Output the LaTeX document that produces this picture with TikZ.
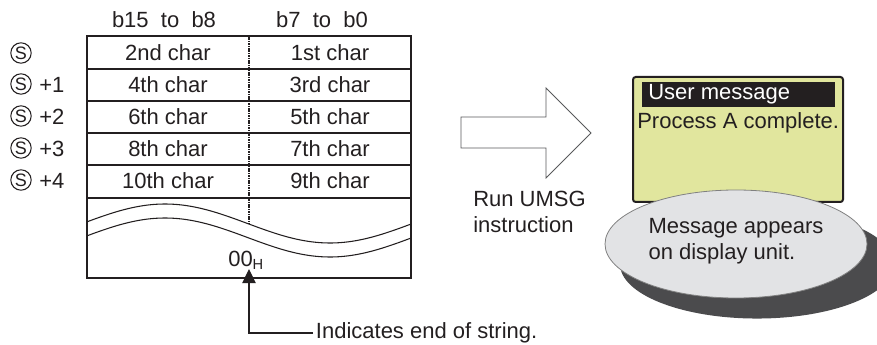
\documentclass[tikz,border=0pt]{standalone}
\usepackage{fontspec}
\setmainfont{Liberation Sans}
\usetikzlibrary{arrows.meta,shapes.geometric}
\definecolor{ink}{HTML}{231F20}
\definecolor{lcdfill}{HTML}{E1E69E}
\definecolor{bubblec}{HTML}{E2E3E5}
\definecolor{shadowc}{HTML}{4B4B4D}
\definecolor{arrowline}{HTML}{58595B}
\tikzset{
  txt/.style={text=ink, inner sep=0pt},
  tline/.style={draw=ink, line width=1pt},
  wave/.style={draw=ink, line width=0.8pt},
  sym/.style={circle, draw=ink, line width=0.8pt, text=ink, inner sep=0pt, minimum size=15.3pt, font=\fontsize{13.5}{13.5}\selectfont},
}
\begin{document}
\begin{tikzpicture}[x=0.75pt,y=-0.75pt, font=\fontsize{16.5}{19.6}\selectfont]
\useasboundingbox (0,0) rectangle (877,345);
% headers
\node[txt] (h1) at (164,20) {b15~~to~~b8};
\node[txt] (h2) at (322,20) {b7~~to~~b0};
% table
\path[tline] (87,36) rectangle (411,278);
\foreach \yy in {69,101,133,165,198} \draw[tline] (87,\yy) -- (411,\yy);
\draw[ink, line width=1.7pt, dash pattern=on 1.2pt off 0.6pt] (249,36) -- (249,224);
\draw[wave] plot[domain=87:411, samples=80, smooth] (\x, {223.5-19.5*cos(1.0909*(\x-165))});
\draw[wave] plot[domain=87:411, samples=80, smooth] (\x, {237.5-19.5*cos(1.0909*(\x-165))});
% cells
\node[txt] (c2) at (168,53) {2nd char};
\node[txt] (c1) at (330,53) {1st char};
\node[txt] (c4) at (168,85) {4th char};
\node[txt] (c3) at (330,85) {3rd char};
\node[txt] (c6) at (168,117) {6th char};
\node[txt] (c5) at (330,117) {5th char};
\node[txt] (c8) at (168,149) {8th char};
\node[txt] (c7) at (330,149) {7th char};
\node[txt] (c10) at (168,181) {10th char};
\node[txt] (c9) at (330,181) {9th char};
% left labels
\node[sym] (s0) at (21,53) {S};
\node[sym] (s1) at (21,84) {S};
\node[sym] (s2) at (21,116) {S};
\node[sym] (s3) at (21,148) {S};
\node[sym] (s4) at (21,180) {S};
\node[txt, anchor=west] (p1) at (39,85) {+1};
\node[txt, anchor=west] (p2) at (39,117) {+2};
\node[txt, anchor=west] (p3) at (39,149) {+3};
\node[txt, anchor=west] (p4) at (39,181) {+4};
% end marker
\node[txt, anchor=base west] (zero) at (228,267) {00\raisebox{-2.2pt}{\fontsize{11}{11}\selectfont H}};
\coordinate (tip) at (249,269);
\node[txt, anchor=west, inner sep=2pt] (note) at (313,333) {Indicates end of string.};
\draw[ink, line width=0.9pt, -{Triangle[length=10.5pt,width=10pt]}] (note.west) -| (tip);
% block arrow
\draw[arrowline, line width=0.6pt, fill=white] (461,117) -- (546,117) -- (546,88) -- (591,133) -- (546,178) -- (546,148) -- (461,148) -- cycle;
\node[txt, anchor=west, align=left] (run) at (473,212) {Run UMSG\\instruction};
% display
\draw[ink, line width=1.5pt, fill=lcdfill, rounded corners=2pt] (633,77) rectangle (843,202);
\fill[ink] (642,82) rectangle (835,107);
\node[txt, anchor=west, text=white] (um) at (648,94.5) {User message};
\node[txt, anchor=west] (pa) at (637,123) {Process A complete.};
% bubble
\fill[shadowc] (757,264) ellipse [x radius=102.75pt, y radius=40.9pt];
\node[ellipse, draw=gray, line width=0.6pt, fill=bubblec, minimum width=196.5pt, minimum height=81pt, inner sep=0pt] (bubble) at (736,244) {};
\node[txt, align=left] (msg) at (736,241) {Message appears\\on display unit.};
\end{tikzpicture}
\end{document}
